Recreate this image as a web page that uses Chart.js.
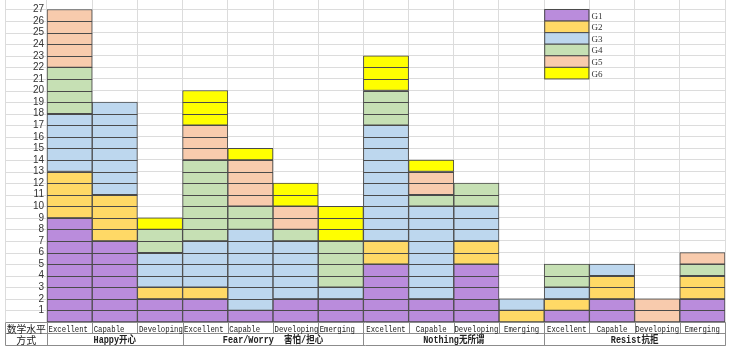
<!DOCTYPE html>
<html>
<head>
<meta charset="utf-8">
<script src="https://cdn.jsdelivr.net/npm/chart.js@4.4.1/dist/chart.umd.min.js"></script>
<style>
  html, body { margin: 0; padding: 0; background: #fff; }
  #wrap { width: 731px; height: 350px; }
</style>
</head>
<body>
<div id="wrap"><canvas id="c" width="731" height="350"></canvas></div>
<script>
// categorias (nivel de matematicas) y grupos (actitud)
const categories = ['Excellent', 'Capable', 'Developing',
  'Excellent', 'Capable', 'Developing', 'Emerging',
  'Excellent', 'Capable', 'Developing', 'Emerging',
  'Excellent', 'Capable', 'Developing', 'Emerging'];
const groupNames = ['Happy开心', 'Fear/Worry  害怕/担心', 'Nothing无所谓', 'Resist抗拒'];
const groupSizes = [3, 4, 4, 4];
const rowTitles = ['数学水平', '方式'];

const seriesNames = ['G1', 'G2', 'G3', 'G4', 'G5', 'G6'];
const g1 = [9, 7, 2, 2, 1, 2, 2, 5, 2, 5, 0, 1, 2, 0, 2];
const g2 = [4, 4, 1, 1, 0, 0, 0, 2, 0, 2, 1, 1, 2, 0, 2];
const g3 = [5, 8, 3, 4, 7, 5, 1, 10, 8, 3, 1, 1, 1, 0, 0];
const g4 = [4, 0, 2, 7, 2, 1, 4, 3, 1, 2, 0, 2, 0, 0, 1];
const g5 = [5, 0, 0, 3, 4, 2, 0, 0, 2, 0, 0, 0, 0, 2, 1];
const g6 = [0, 0, 1, 3, 1, 2, 3, 3, 1, 0, 0, 0, 0, 0, 0];
const yTicks = [1, 2, 3, 4, 5, 6, 7, 8, 9, 10, 11, 12, 13, 14, 15, 16, 17, 18, 19, 20, 21, 22, 23, 24, 25, 26, 27];

const colors = ['#BA8CDC', '#FFD966', '#BDD7EE', '#C6E0B4', '#F8CBAD', '#FFFF00'];
const edge = '#4a4a4a';
const sheetLine = '#dcdcdc';

// texto estrechado horizontalmente (como la fuente de la hoja)
function narrowText(ctx, text, x, y, align, sx) {
  ctx.save();
  ctx.translate(x, y);
  ctx.scale(sx, 1);
  ctx.textAlign = align;
  ctx.fillText(text, 0, 0);
  ctx.restore();
}

// Plugin para simular la hoja de calculo: lineas de unidad, leyenda y tabla inferior
const sheetPlugin = {
  id: 'sheet',
  beforeDraw(chart) {
    const { ctx, chartArea, scales } = chart;
    ctx.save();
    ctx.fillStyle = '#fff';
    ctx.fillRect(0, 0, chart.width, chart.height);
    ctx.strokeStyle = sheetLine;
    ctx.lineWidth = 1;
    yTicks.forEach(v => {
      const y = Math.round(scales.y.getPixelForValue(v)) + 0.5;
      ctx.beginPath();
      ctx.moveTo(5, y);
      ctx.lineTo(chartArea.left, y);
      ctx.stroke();
    });
    ctx.beginPath();
    ctx.moveTo(5.5, 0);
    ctx.lineTo(5.5, chartArea.bottom);
    ctx.stroke();
    ctx.restore();
  },
  afterDatasetsDraw(chart) {
    const { ctx, scales } = chart;
    const meta = chart.getDatasetMeta(0);
    ctx.save();
    ctx.strokeStyle = edge;
    ctx.lineWidth = 1;
    // lineas horizontales en cada unidad dentro de las barras
    categories.forEach((c, i) => {
      const bar = meta.data[i];
      const total = chart.data.datasets.reduce((s, d) => s + (d.data[i] || 0), 0);
      for (let k = 1; k < total; k++) {
        const y = Math.round(scales.y.getPixelForValue(k)) + 0.5;
        ctx.beginPath();
        ctx.moveTo(bar.x - bar.width / 2, y);
        ctx.lineTo(bar.x + bar.width / 2, y);
        ctx.stroke();
      }
    });
    // leyenda dentro de la hoja (columna 12, filas 27..21)
    const lb = meta.data[11];
    const lx = lb.x - lb.width / 2;
    chart.data.datasets.forEach((d, j) => {
      const yTop = scales.y.getPixelForValue(27 - j);
      const yBot = scales.y.getPixelForValue(26 - j);
      ctx.fillStyle = d.backgroundColor;
      ctx.fillRect(lx, yTop, lb.width, yBot - yTop);
      ctx.strokeRect(lx + 0.5, yTop, lb.width - 1, yBot - yTop);
      ctx.fillStyle = '#333';
      ctx.font = '9px "Liberation Serif"';
      ctx.textAlign = 'left';
      ctx.textBaseline = 'middle';
      ctx.fillText(d.label, lx + lb.width + 2, (yTop + yBot) / 2 + 1);
    });
    ctx.restore();
  },
  afterDraw(chart) {
    const { ctx, chartArea } = chart;
    const meta = chart.getDatasetMeta(0);
    const y0 = chartArea.bottom + 0.5;
    const y1 = y0 + 11;
    const y2 = y0 + 23;
    const left = 5.5;
    const right = chartArea.right + 0.5;
    ctx.save();
    ctx.strokeStyle = '#8c8c8c';
    ctx.lineWidth = 1;
    ctx.beginPath();
    [y0, y1, y2].forEach(y => { ctx.moveTo(left, y); ctx.lineTo(right, y); });
    ctx.moveTo(left, y0); ctx.lineTo(left, y2);
    ctx.moveTo(chartArea.left + 0.5, y0); ctx.lineTo(chartArea.left + 0.5, y2);
    ctx.moveTo(right, y0); ctx.lineTo(right, y2);
    meta.data.forEach(bar => {
      const x = Math.round(bar.x + bar.width / 2) + 0.5;
      ctx.moveTo(x, y0); ctx.lineTo(x, y1);
    });
    let idx = 0;
    groupSizes.forEach(n => {
      idx += n;
      const bar = meta.data[idx - 1];
      const x = Math.round(bar.x + bar.width / 2) + 0.5;
      ctx.moveTo(x, y1); ctx.lineTo(x, y2);
    });
    ctx.stroke();

    ctx.fillStyle = '#222';
    ctx.textBaseline = 'middle';
    ctx.font = '10px "Noto Sans CJK SC"';
    narrowText(ctx, rowTitles[0], (left + chartArea.left) / 2, (y0 + y1) / 2 + 1, 'center', 0.98);
    narrowText(ctx, rowTitles[1], (left + chartArea.left) / 2, (y1 + y2) / 2 + 1, 'center', 1);

    ctx.font = '9.5px "Liberation Mono"';
    categories.forEach((c, i) => {
      const bar = meta.data[i];
      if (i < 7) {
        narrowText(ctx, c, bar.x - bar.width / 2 + 1.5, (y0 + y1) / 2 + 1, 'left', 0.77);
      } else {
        narrowText(ctx, c, bar.x, (y0 + y1) / 2 + 1, 'center', 0.77);
      }
    });

    ctx.font = 'bold 10px "Liberation Mono", "Noto Sans CJK SC"';
    idx = 0;
    groupNames.forEach((g, k) => {
      const a = meta.data[idx];
      const b = meta.data[idx + groupSizes[k] - 1];
      const cx = (a.x - a.width / 2 + b.x + b.width / 2) / 2;
      narrowText(ctx, g, cx, (y1 + y2) / 2 + 1, 'center', 0.85);
      idx += groupSizes[k];
    });
    ctx.restore();
  }
};

const seriesValues = [g1, g2, g3, g4, g5, g6];
const ctx = document.getElementById('c').getContext('2d');
const chart = new Chart(ctx, {
  type: 'bar',
  data: {
    labels: categories,
    datasets: seriesNames.map((name, j) => ({
      label: name,
      data: seriesValues[j],
      backgroundColor: colors[j],
      borderColor: edge,
      borderWidth: 1,
      borderSkipped: false,
      barPercentage: 1,
      categoryPercentage: 1
    }))
  },
  options: {
    responsive: false,
    animation: false,
    events: [],
    layout: { padding: { left: 0, right: 6, top: 0, bottom: 0 } },
    plugins: {
      legend: { display: false },
      tooltip: { enabled: false }
    },
    scales: {
      x: {
        stacked: true,
        ticks: { display: false },
        grid: { display: true, offset: true, color: sheetLine, drawTicks: false },
        border: { display: false },
        afterFit(scale) { scale.height = 28; }
      },
      y: {
        stacked: true,
        min: 0,
        max: 27.82,
        afterBuildTicks(scale) { scale.ticks = yTicks.map(v => ({ value: v })); },
        ticks: {
          color: '#333',
          padding: 3,
          autoSkip: false,
          font: { family: '"Liberation Sans"', size: 10 }
        },
        grid: { color: sheetLine, drawTicks: false },
        border: { display: false },
        afterFit(scale) {
          scale.width = 47;
          scale.paddingTop = 0;
          scale.paddingBottom = 0;
        }
      }
    }
  },
  plugins: [sheetPlugin]
});
</script>
</body>
</html>
